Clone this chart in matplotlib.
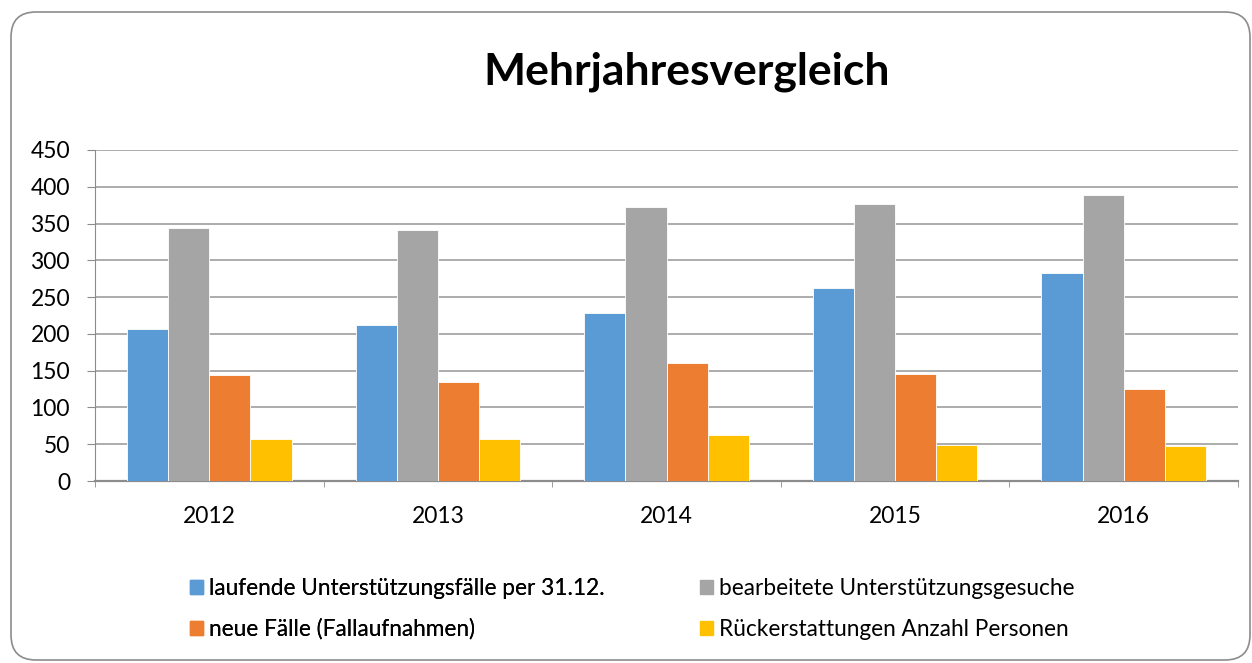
import matplotlib
matplotlib.use("Agg")
import matplotlib.pyplot as plt
import numpy as np
from matplotlib.patches import FancyBboxPatch, Patch

plt.rcParams['font.family'] = ['Lato', 'DejaVu Sans']

years = ['2012', '2013', '2014', '2015', '2016']
laufende = [206, 212, 229, 262, 283]
bearbeitete = [344, 341, 373, 376, 389]
neue = [144, 135, 161, 146, 125]
rueck = [57, 57, 63, 49, 47]

series = [
    ('laufende Unterstützungsfälle per 31.12.', laufende, '#5B9BD5'),
    ('bearbeitete Unterstützungsgesuche', bearbeitete, '#A5A5A5'),
    ('neue Fälle (Fallaufnahmen)', neue, '#ED7D31'),
    ('Rückerstattungen Anzahl Personen', rueck, '#FFC000'),
]

W, H = 1252, 663
fig = plt.figure(figsize=(W / 100, H / 100), dpi=100)

# rounded outer frame (inches)
frame = FancyBboxPatch((0.11, 0.03), 12.39, 6.48,
                       boxstyle="round,pad=0,rounding_size=0.25",
                       transform=fig.dpi_scale_trans, fill=False,
                       edgecolor='#8c8c8c', lw=1.2)
fig.patches.append(frame)

ax = fig.add_axes([95 / W, 1 - 481 / H, (1238 - 95) / W, (481 - 150) / H])

x = np.arange(len(years))
bw = 0.18
for i, (name, vals, col) in enumerate(series):
    ax.bar(x + (i - 1.5) * bw, vals, bw, color=col, edgecolor='white',
           linewidth=0.6, zorder=3)

ax.set_xlim(-0.5, 4.5)
ax.set_ylim(0, 450)
ax.set_yticks(range(0, 451, 50))
ax.set_xticks(x)
ax.set_xticklabels(years)
ax.set_xticks(np.arange(-0.5, 5, 1), minor=True)
ax.tick_params(axis='x', which='major', length=0, pad=18, labelsize=16.5)
ax.tick_params(axis='x', which='minor', length=4.5, color='#8c8c8c')
ax.tick_params(axis='y', length=6, color='#8c8c8c', labelsize=16.5, pad=12)
ax.grid(axis='y', color='#a6a6a6', lw=1.3, zorder=0)
for s in ['top', 'right']:
    ax.spines[s].set_visible(False)
ax.spines['left'].set_color('#8c8c8c')
ax.spines['bottom'].set_color('#8c8c8c')
ax.spines['bottom'].set_linewidth(1.6)

fig.text(687 / W, 1 - 85 / H, 'Mehrjahresvergleich', ha='center', va='baseline',
         fontsize=32, fontweight='bold')

handles = [Patch(color=c, label=n) for n, v, c in series]
leg_kw = dict(loc='center left', frameon=False, fontsize=16.3,
              handlelength=0.58, handleheight=0.58, handletextpad=0.25,
              labelspacing=0.85, borderpad=0, borderaxespad=0)
leg1 = fig.legend([handles[0], handles[2]], [series[0][0], series[2][0]],
                  bbox_to_anchor=(190 / W, 1 - 609 / H), **leg_kw)
fig.add_artist(leg1)
fig.legend([handles[1], handles[3]], [series[1][0], series[3][0]],
           bbox_to_anchor=(700 / W, 1 - 609 / H), **leg_kw)

fig.savefig('out.png', dpi=100)
